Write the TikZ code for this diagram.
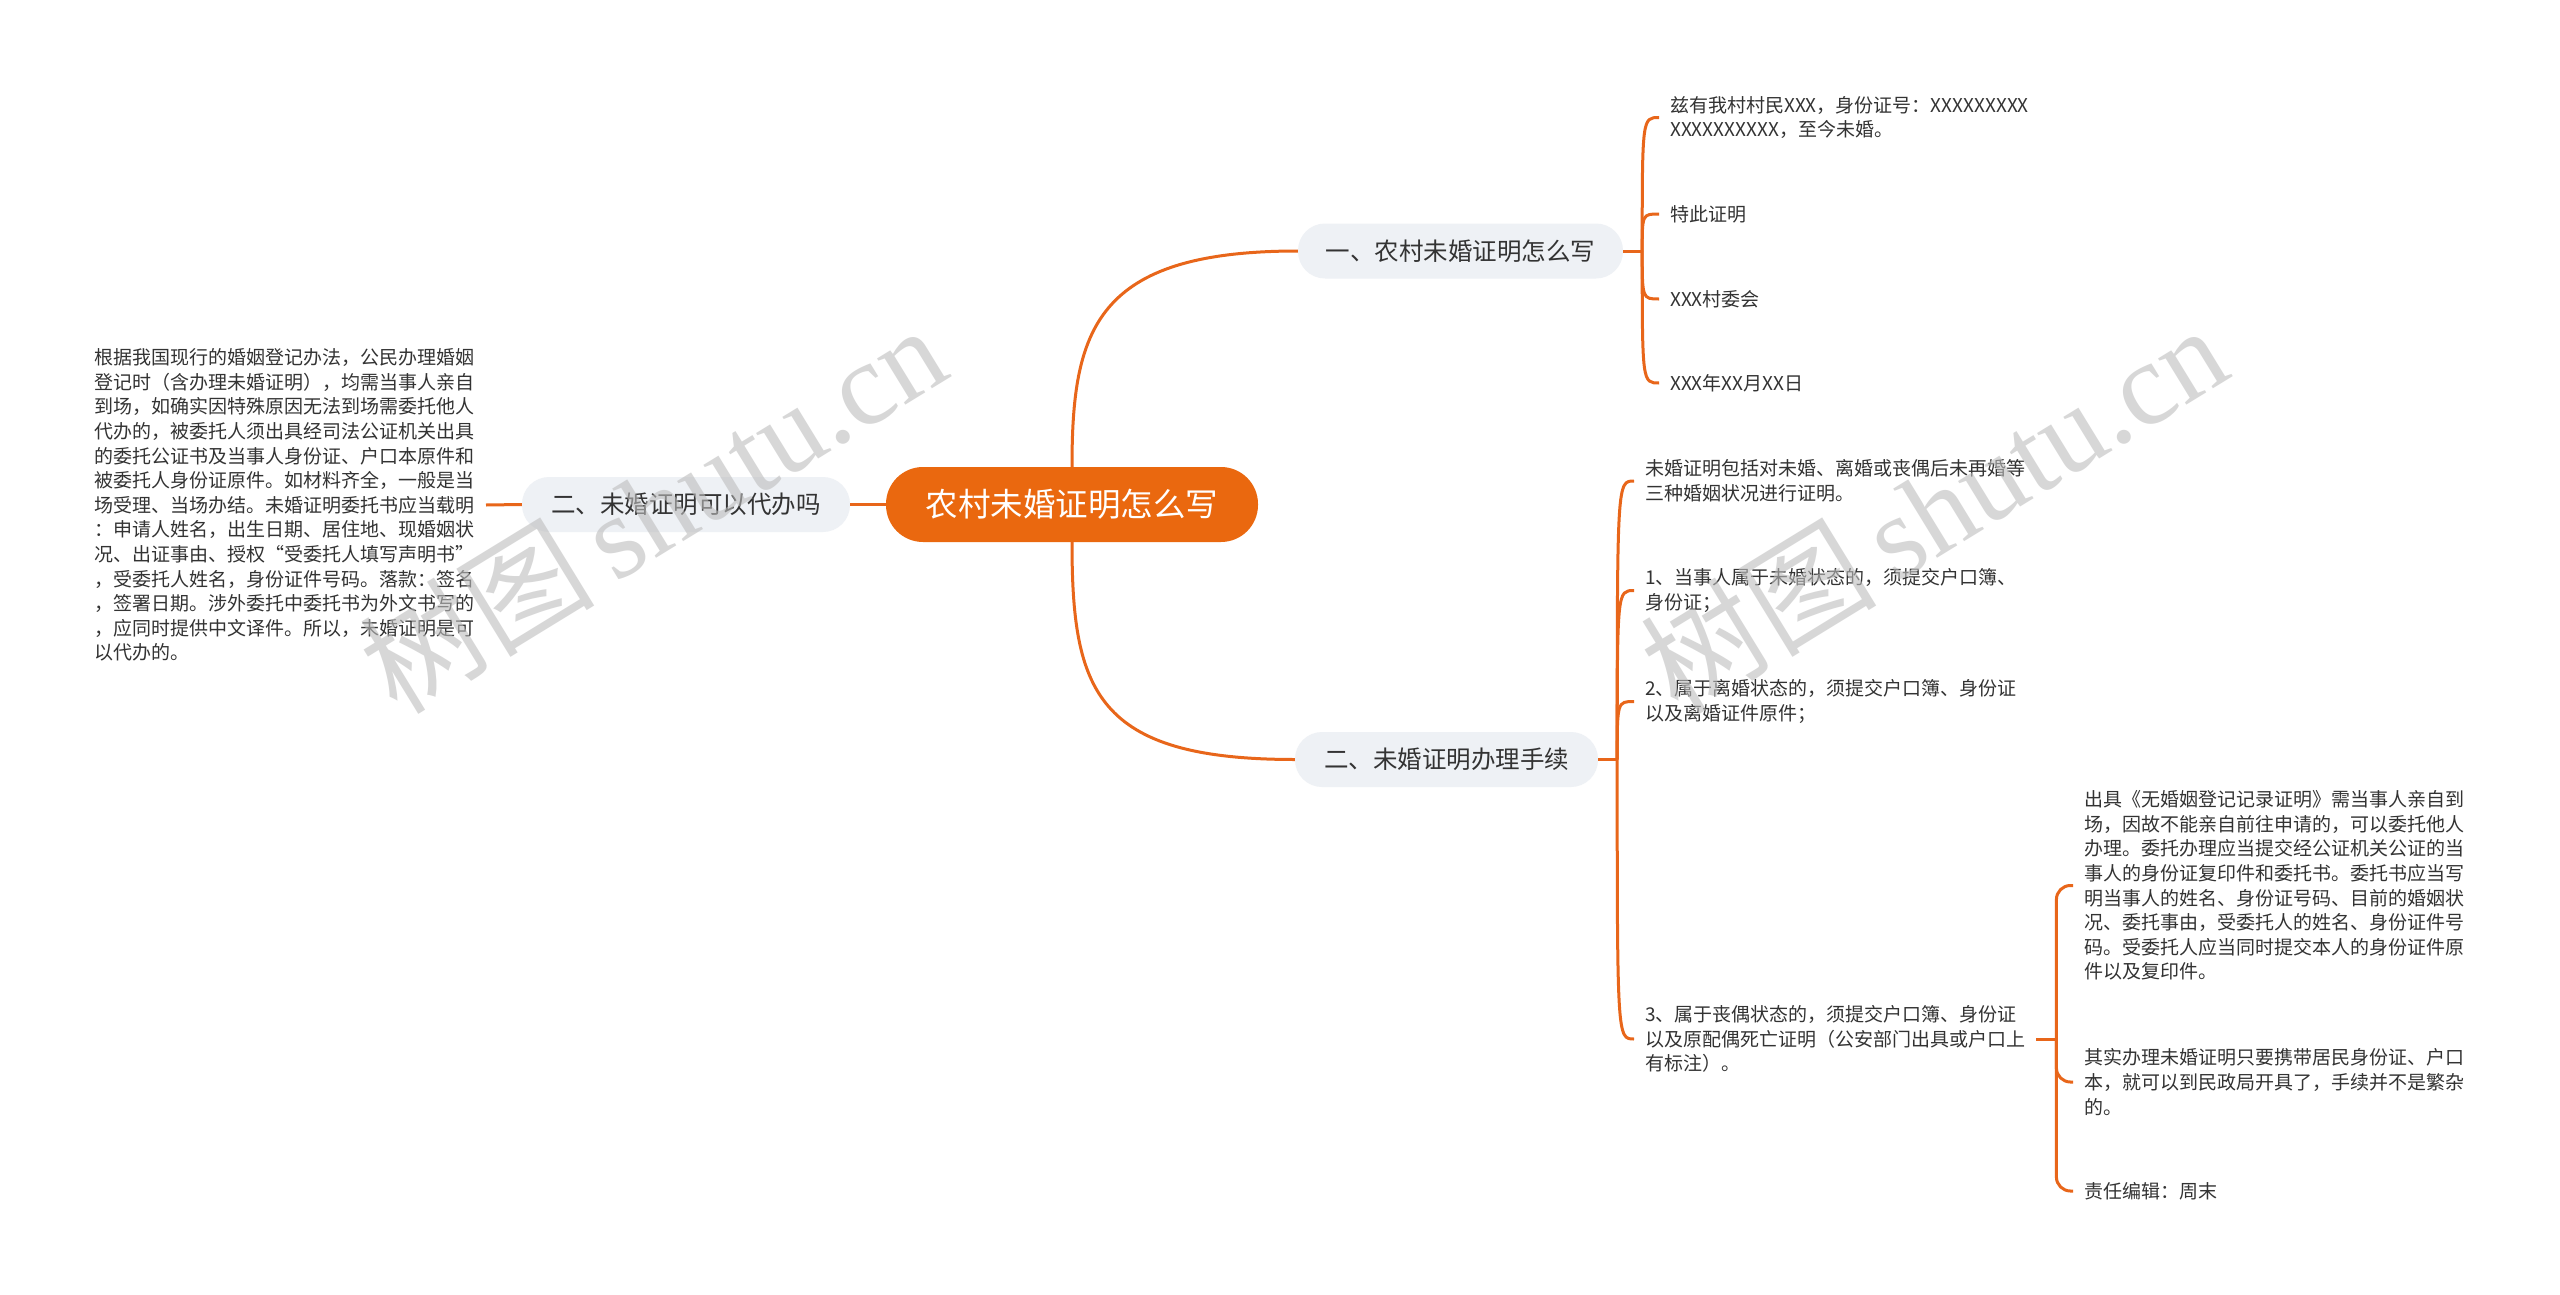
\documentclass[tikz,border=0pt]{standalone}
\usepackage{fontspec}
\setmainfont{Noto Sans CJK SC}
\newfontfamily\wmlat{Liberation Serif}
\usetikzlibrary{calc}
\definecolor{brorange}{HTML}{E8661A}
\definecolor{rootor}{HTML}{EA680F}
\definecolor{lvfill}{HTML}{EEF1F5}
\definecolor{txt}{HTML}{333333}
\definecolor{wm}{HTML}{BDBDBD}
\tikzset{
  rootbox/.style={rectangle, rounded corners=37pt, fill=rootor, text=white,
    font=\fontsize{32.5}{36}\selectfont, minimum height=75pt, inner sep=0pt},
  lvbox/.style={rectangle, rounded corners=27pt, fill=lvfill, text=txt,
    font=\fontsize{24.5}{28}\selectfont, minimum height=55pt, inner sep=0pt},
  leaf/.style={align=left, text=txt, font=\fontsize{19}{24.6}\selectfont,
    inner xsep=11pt, inner ysep=0pt, anchor=west},
  conn/.style={draw=brorange, line width=3pt},
  wmark/.style={text=wm, opacity=0.6, rotate=31.5, inner sep=0pt,
    font=\fontsize{118}{118}\selectfont}
}
\begin{document}
\begin{tikzpicture}[x=1pt,y=-1pt]
\fill[white] (0,0) rectangle (2560,1295);
\useasboundingbox (0,0) rectangle (2560,1295);

% main nodes
\node[rootbox, minimum width=372pt] (root) at (1072,504.5) {农村未婚证明怎么写};
\node[lvbox, minimum width=325pt] (n1) at (1460.5,251) {一、农村未婚证明怎么写};
\node[lvbox, minimum width=303pt] (n2) at (1446.5,759.5) {二、未婚证明办理手续};
\node[lvbox, minimum width=328pt] (n3) at (686,504.5) {二、未婚证明可以代办吗};

% top-right leaves
\node[leaf] (t1) at (1659,117.5) {兹有我村村民XXX，身份证号：XXXXXXXXX\\XXXXXXXXXX，至今未婚。};
\node[leaf] (t2) at (1659,214) {特此证明};
\node[leaf] (t3) at (1659,299) {XXX村委会};
\node[leaf] (t4) at (1659,383) {XXX年XX月XX日};

% bottom-right leaves
\node[leaf] (a) at (1634,481) {未婚证明包括对未婚、离婚或丧偶后未再婚等\\三种婚姻状况进行证明。};
\node[leaf] (b) at (1634,590.5) {1、当事人属于未婚状态的，须提交户口簿、\\身份证；};
\node[leaf] (c) at (1634,701.5) {2、属于离婚状态的，须提交户口簿、身份证\\以及离婚证件原件；};
\node[leaf] (d) at (1634,1039) {3、属于丧偶状态的，须提交户口簿、身份证\\以及原配偶死亡证明（公安部门出具或户口上\\有标注）。};

\node[leaf] (e) at (2073,885.5) {出具《无婚姻登记记录证明》需当事人亲自到\\场，因故不能亲自前往申请的，可以委托他人\\办理。委托办理应当提交经公证机关公证的当\\事人的身份证复印件和委托书。委托书应当写\\明当事人的姓名、身份证号码、目前的婚姻状\\况、委托事由，受委托人的姓名、身份证件号\\码。受委托人应当同时提交本人的身份证件原\\件以及复印件。};
\node[leaf] (f) at (2073,1082) {其实办理未婚证明只要携带居民身份证、户口\\本，就可以到民政局开具了，手续并不是繁杂\\的。};
\node[leaf] (g) at (2073,1191) {责任编辑：周末};

% left leaf
\node[leaf, anchor=east] (lb) at (486,505) {根据我国现行的婚姻登记办法，公民办理婚姻\\登记时（含办理未婚证明），均需当事人亲自\\到场，如确实因特殊原因无法到场需委托他人\\代办的，被委托人须出具经司法公证机关出具\\的委托公证书及当事人身份证、户口本原件和\\被委托人身份证原件。如材料齐全，一般是当\\场受理、当场办结。未婚证明委托书应当载明\\：申请人姓名，出生日期、居住地、现婚姻状\\况、出证事由、授权“受委托人填写声明书”\\，受委托人姓名，身份证件号码。落款：签名\\，签署日期。涉外委托中委托书为外文书写的\\，应同时提供中文译件。所以，未婚证明是可\\以代办的。};

% junctions
\coordinate (j1) at ($(n1.east)+(19,0)$);
\coordinate (j2) at ($(n2.east)+(19,0)$);
\coordinate (j3) at ($(d.east)+(20,0)$);

% root connectors
\draw[conn] (root.north) .. controls ($(root.north)+(0,-137)$) and ($(n1.west)+(-203,0)$) .. (n1.west);
\draw[conn] (root.south) .. controls ($(root.south)+(0,148)$) and ($(n2.west)+(-200,0)$) .. (n2.west);
\draw[conn] (root.west) -- (n3.east);
\draw[conn] (n3.west) -- (lb.east);

% top bracket
\draw[conn] (n1.east) -- (j1);
\foreach \k in {t1,t2,t3,t4}{
  \draw[conn] (j1) .. controls (j1 |- \k.west) .. (\k.west);
}
% bottom bracket
\draw[conn] (n2.east) -- (j2);
\foreach \k in {a,b,c,d}{
  \draw[conn] (j2) .. controls (j2 |- \k.west) .. (\k.west);
}
% sub bracket
\draw[conn] (d.east) -- (j3);
\foreach \k in {e,f,g}{
  \draw[conn, rounded corners=14pt] (j3) |- (\k.west);
}

% watermarks
\node[wmark] (wm1) at (652,508) {树图\,{\wmlat shutu.cn}};
\node[wmark] (wm2) at (1933,508) {树图\,{\wmlat shutu.cn}};
\end{tikzpicture}
\end{document}
